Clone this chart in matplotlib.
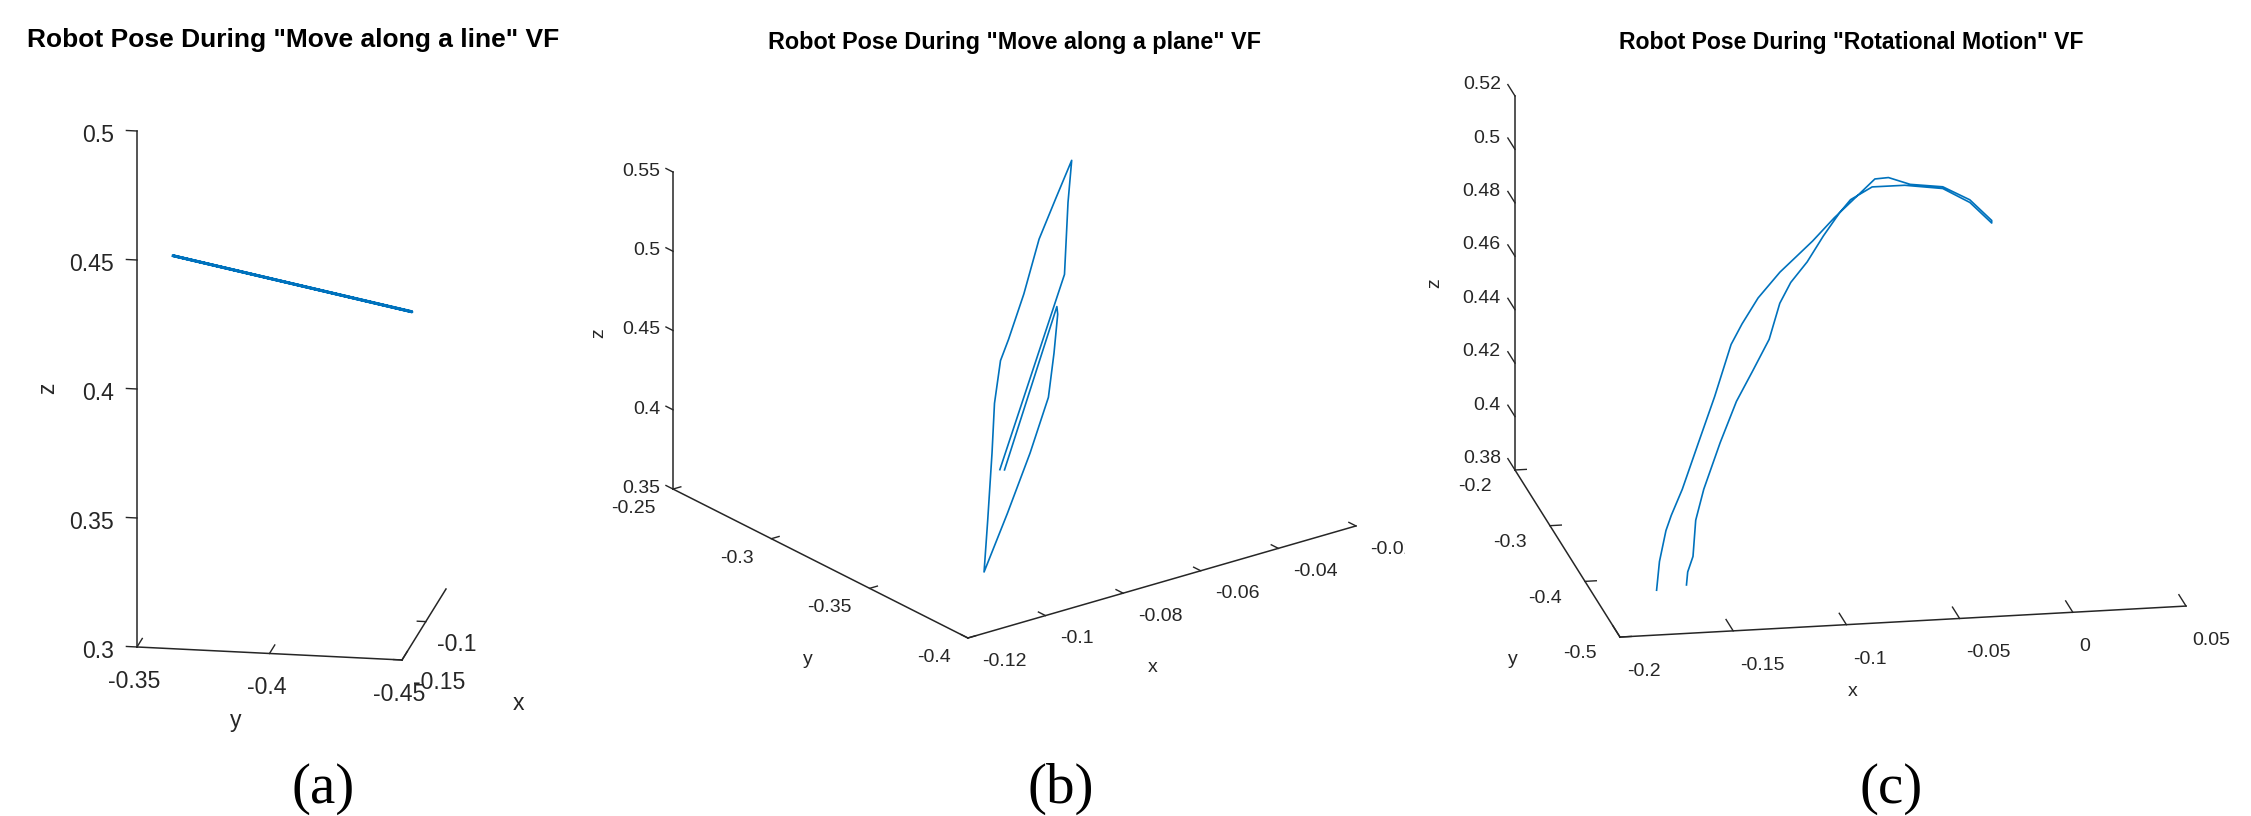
import numpy as np
import matplotlib
matplotlib.use("Agg")
import matplotlib.pyplot as plt
from matplotlib.ticker import FuncFormatter
from matplotlib.patches import Rectangle
from mpl_toolkits.mplot3d import axis3d

plt.rcParams["font.family"] = ["Liberation Sans", "DejaVu Sans"]
plt.rcParams["axes.unicode_minus"] = False

# MATLAB draws the z tick marks along y, not along x
axis3d.Axis._AXINFO["z"]["tickdir"] = 1

W, H, DPI = 2251, 816, 100
LINE_BLUE = "#0072BD"
AX_GRAY = "#262626"

# ---------------------------
# (a) Move along a line
# ---------------------------
a_x = [-0.1200, -0.1200, -0.1205, -0.1200]
a_y = [-0.3582, -0.4484, -0.3585, -0.4480]
a_z = [0.4431, 0.4259, 0.4433, 0.4261]
a_xticks = [-0.15, -0.1]
a_yticks = [-0.45, -0.4, -0.35]
a_zticks = [0.3, 0.35, 0.4, 0.45, 0.5]

# ---------------------------
# (b) Move along a plane
# ---------------------------
b_x = [-0.0915, -0.0556, -0.0476, -0.0426, -0.0502, -0.0586, -0.0681, -0.0766,
       -0.0807, -0.0863, -0.0920, -0.0997, -0.1057, -0.0941, -0.0822, -0.0719,
       -0.0659, -0.0614, -0.0606, -0.0903]
b_y = [-0.360, -0.322, -0.308, -0.300, -0.307, -0.315, -0.326, -0.335,
       -0.339, -0.347, -0.357, -0.370, -0.380, -0.369, -0.357, -0.346,
       -0.337, -0.330, -0.328, -0.360]
b_z = [0.411, 0.485, 0.516, 0.534, 0.520, 0.505, 0.484, 0.467,
       0.459, 0.441, 0.420, 0.391, 0.369, 0.391, 0.413, 0.434,
       0.452, 0.469, 0.472, 0.410]
b_xticks = [-0.12, -0.1, -0.08, -0.06, -0.04, -0.02]
b_yticks = [-0.4, -0.35, -0.3, -0.25]
b_zticks = [0.35, 0.4, 0.45, 0.5, 0.55]

# ---------------------------
# (c) Rotational motion (up one strand, back down the other)
# ---------------------------
c_x = [-0.1761, -0.1727, -0.1675, -0.1640, -0.1572, -0.1466, -0.1359, -0.1248,
       -0.1184, -0.1094, -0.0978, -0.0895, -0.0811, -0.0698, -0.0586, -0.0489,
       -0.0428, -0.0337, -0.0195, -0.0085, -0.0004,
       -0.0006, -0.0087, -0.0196, -0.0362, -0.0507, -0.0612, -0.0670, -0.0759,
       -0.0850, -0.0938, -0.1002, -0.1076, -0.1171, -0.1267, -0.1370, -0.1477,
       -0.1536, -0.1575, -0.1610, -0.1625]
c_y = [-0.4500, -0.4362, -0.4211, -0.4137, -0.4011, -0.3786, -0.3560, -0.3310,
       -0.3209, -0.3085, -0.2959, -0.2884, -0.2809, -0.2696, -0.2596, -0.2508,
       -0.2501, -0.2533, -0.2546, -0.2608, -0.2709,
       -0.2721, -0.2621, -0.2553, -0.2539, -0.2546, -0.2608, -0.2671, -0.2784,
       -0.2909, -0.3009, -0.3110, -0.3285, -0.3435, -0.3585, -0.3786, -0.4011,
       -0.4162, -0.4337, -0.4412, -0.4474]
c_z = [0.3860, 0.3937, 0.4019, 0.4059, 0.4127, 0.4249, 0.4371, 0.4508,
       0.4561, 0.4628, 0.4693, 0.4731, 0.4770, 0.4828, 0.4880, 0.4925,
       0.4926, 0.4903, 0.4890, 0.4849, 0.4789,
       0.4782, 0.4842, 0.4885, 0.4902, 0.4904, 0.4874, 0.4841, 0.4782,
       0.4715, 0.4663, 0.4609, 0.4514, 0.4433, 0.4353, 0.4245, 0.4123,
       0.4041, 0.3944, 0.3903, 0.3868]
c_xticks = [-0.2, -0.15, -0.1, -0.05, 0, 0.05]
c_yticks = [-0.5, -0.4, -0.3, -0.2]
c_zticks = [0.38, 0.4, 0.42, 0.44, 0.46, 0.48, 0.5, 0.52]

fig = plt.figure(figsize=(W / DPI, H / DPI), dpi=DPI)

S = 900                 # side of each (square) 3d axes, px
F = 0.095 / 0.185       # where the box centre lands inside the axes


def px(x, y):
    """pixel (from top-left) -> figure fraction"""
    return x / W, 1 - y / H


def make_panel(centre, azim, elev, box, lims, ticks, fs, tick_style):
    cx, cy = centre
    ax = fig.add_axes([(cx - F * S) / W, (H - cy - F * S) / H, S / W, S / H],
                      projection="3d")
    ax.set_proj_type("ortho")
    ax.view_init(elev=elev, azim=azim)
    zoom = 1.85 * np.linalg.norm(box) / (1.905692 * S)
    ax.set_box_aspect(box, zoom=zoom)
    ax.set_xlim(*lims[0])
    ax.set_ylim(*lims[1])
    ax.set_zlim(*lims[2])
    ax.grid(False)
    ax.patch.set_alpha(0)
    ax.tick_params(labelsize=fs, colors=AX_GRAY)

    fmt = FuncFormatter(lambda v, p: f"{v:g}")
    for axis, name, tk in zip((ax.xaxis, ax.yaxis, ax.zaxis), "xyz", ticks):
        ha, va, pad, out = tick_style[name]
        axis.set_ticks(tk)
        axis.set_major_formatter(fmt)
        axis.set_pane_color((1, 1, 1, 0))
        axis.line.set_color(AX_GRAY)
        axis.line.set_linewidth(1.1)
        axis._axinfo["tick"]["inward_factor"] = 0.0
        axis._axinfo["tick"]["outward_factor"] = out
        axis._axinfo["tick"]["linewidth"][True] = 1.0
        ax.tick_params(axis=name, pad=pad)
        for lbl in axis.get_majorticklabels():
            lbl.set_horizontalalignment(ha)
            lbl.set_verticalalignment(va)
    return ax


# ---------------------------
# panels  (tick style: label ha, va, pad, tick length factor)
# ---------------------------
ax_a = make_panel((291.5, 360), -170.11, 16.34, (256.1, 269.0, 537.7),
                  [(-0.15, -0.0575), (-0.45, -0.35), (0.3, 0.5)],
                  (a_xticks, a_yticks, a_zticks), 16.6,
                  {"x": ("left", "center", 6.6, 0.4),
                   "y": ("center", "center", 11.6, 1.5),
                   "z": ("right", "center", 17.3, 0.5)})
ax_a.plot(a_x, a_y, a_z, color=LINE_BLUE, lw=2.0)

ax_b = make_panel((1014.5, 349), -127.09, 22.45, (486.5, 488.9, 343.0),
                  [(-0.12, -0.02), (-0.4, -0.25), (0.35, 0.55)],
                  (b_xticks, b_yticks, b_zticks), 14,
                  {"x": ("left", "center", 8.7, 0.3),
                   "y": ("right", "center", 7.2, 0.25),
                   "z": ("right", "center", -1.8, 0.3)})
ax_b.plot(b_x, b_y, b_z, color=LINE_BLUE, lw=1.2)

ax_c = make_panel((1850.5, 351), -100.51, 17.17, (575.7, 575.6, 391.5),
                  [(-0.2, 0.05), (-0.5, -0.2), (0.38, 0.52)],
                  (c_xticks, c_yticks, c_zticks), 14,
                  {"x": ("left", "center", 13.5, 0.85),
                   "y": ("right", "center", 6.0, 0.25),
                   "z": ("right", "bottom", -0.9, 0.85)})
ax_c.plot(c_x, c_y, c_z, color=LINE_BLUE, lw=1.2)

# ---------------------------
# titles, axis names, captions
# ---------------------------
titles = [
    ((293.5, 40), 'Robot Pose During "Move along a line" VF', 19),
    ((1014, 42), 'Robot Pose During "Move along a plane" VF', 16.8),
    ((1851, 42), 'Robot Pose During "Rotational Motion" VF', 16.6),
]
for (x, y), txt, fs in titles:
    fig.text(*px(x, y), txt, ha="center", va="center", fontsize=fs,
             fontweight="bold", color="black")

axis_names = [
    ((48, 388), "z", 16.6, 90), ((236, 720), "y", 16.6, 0), ((518, 704), "x", 16.6, 0),
    ((599, 333), "z", 14, 90), ((808, 660), "y", 14, 0), ((1153, 668), "x", 14, 0),
    ((1435, 283), "z", 14, 90), ((1513, 660), "y", 14, 0), ((1853, 691), "x", 14, 0),
]
for (x, y), txt, fs, rot in axis_names:
    fig.text(*px(x, y), txt, ha="center", va="center", fontsize=fs,
             rotation=rot, color=AX_GRAY)

for x, txt in [(323, "(a)"), (1061, "(b)"), (1891, "(c)")]:
    fig.text(*px(x, 803), txt, ha="center", va="baseline", fontsize=41,
             family="Liberation Serif", color="black")

# panel (c) picture covers the end of the last x label of panel (b)
fig.patches.append(Rectangle(px(1405, 568), 30 / W, 36 / H,
                             transform=fig.transFigure, color="white", zorder=5))

fig.savefig("out.png", dpi=DPI, facecolor="white")
